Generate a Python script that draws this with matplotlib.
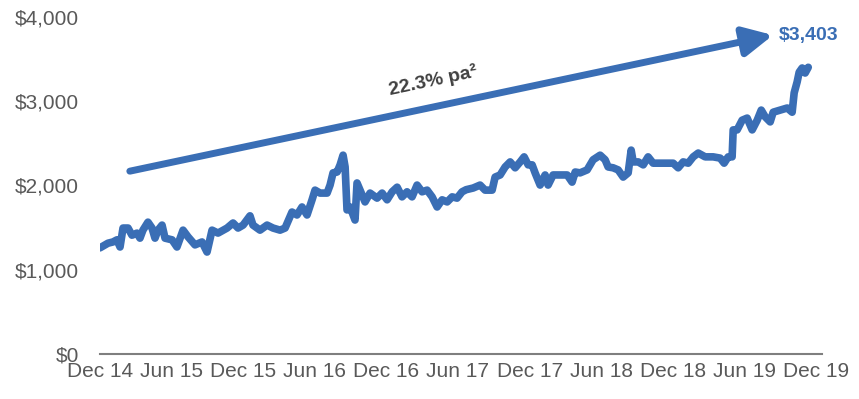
import matplotlib
matplotlib.use("Agg")
import matplotlib.pyplot as plt
from matplotlib.ticker import FuncFormatter

# Portfolio value over time; x is months elapsed since December 2014
months = [
    0.00, 0.67, 1.09, 1.42, 1.68, 1.93, 2.35, 2.68, 3.10, 3.35, 3.60, 4.02, 4.36,
    4.61, 4.86, 5.20, 5.45, 6.04, 6.45, 6.96, 7.38, 7.96, 8.55, 8.97, 9.39, 9.89,
    10.65, 11.15, 11.57, 11.99, 12.57, 12.82, 13.41, 14.00, 14.50, 15.09, 15.51,
    16.09, 16.51, 16.93, 17.35, 17.77, 18.02, 18.44, 19.03, 19.28, 19.53, 19.87,
    20.12, 20.37, 20.54, 20.70, 20.96, 21.37, 21.54, 21.79, 22.21, 22.63, 23.22,
    23.64, 24.06, 24.48, 24.90, 25.31, 25.73, 26.15, 26.57, 26.99, 27.41, 27.83,
    28.25, 28.67, 29.09, 29.51, 29.92, 30.34, 30.68, 31.27, 31.85, 32.27, 32.86,
    33.11, 33.53, 33.95, 34.37, 34.79, 35.21, 35.54, 35.88, 36.21, 36.46, 36.88,
    37.30, 37.55, 37.97, 38.56, 39.15, 39.56, 39.82, 40.23, 40.82, 41.32, 41.91,
    42.33, 42.58, 43.00, 43.42, 43.84, 44.26, 44.51, 44.68, 45.10, 45.52, 45.93,
    46.35, 46.94, 47.53, 48.03, 48.45, 48.87, 49.29, 49.71, 50.13, 50.71, 51.38,
    51.97, 52.30, 52.64, 52.97, 53.06, 53.39, 53.81, 54.23, 54.65, 55.07, 55.41,
    55.74, 56.16, 56.41, 57.00, 57.59, 58.00, 58.17, 58.42, 58.59, 58.84, 59.09,
    59.35,
]
values = [
    1260, 1315, 1330, 1355, 1270, 1495, 1495, 1410, 1435, 1375, 1470, 1565, 1495,
    1375, 1470, 1530, 1375, 1355, 1270, 1470, 1390, 1295, 1330, 1210, 1470, 1435,
    1495, 1555, 1495, 1530, 1640, 1530, 1470, 1530, 1495, 1470, 1495,
    1685, 1650, 1745, 1650, 1830, 1945, 1910, 1910, 2005, 2150, 2160,
    2245, 2360, 2220, 1710, 1745, 1590, 2030, 1945, 1805, 1910, 1850,
    1910, 1830, 1925, 1980, 1865, 1925, 1865, 2005, 1925, 1945, 1865,
    1745, 1830, 1805, 1865, 1850, 1925, 1950, 1970, 2005, 1945, 1945,
    2100, 2125, 2220, 2280, 2210, 2280, 2340, 2245, 2245, 2150, 2005,
    2125, 2005, 2125, 2125, 2125, 2040, 2160, 2150, 2185, 2305, 2360,
    2305, 2220, 2210, 2185, 2100, 2150, 2420, 2280, 2280, 2245, 2340,
    2265, 2265, 2265, 2265, 2210, 2280, 2265, 2340, 2385, 2340, 2340,
    2325, 2265, 2340, 2340, 2660, 2660, 2775, 2800, 2660, 2775, 2895,
    2815, 2755, 2870, 2895, 2920, 2870, 3100, 3230, 3345, 3395, 3335,
    3403,
]

tick_months = [0, 6, 12, 18, 24, 30, 36, 42, 48, 54, 60]
tick_labels = ["Dec 14", "Jun 15", "Dec 15", "Jun 16", "Dec 16", "Jun 17",
               "Dec 17", "Jun 18", "Dec 18", "Jun 19", "Dec 19"]

growth_label = "22.3% pa\u00b2"
trend_start = (2.5, 2170)
trend_end = (56.4, 3785)

BLUE = "#3a6eb5"
GREY = "#595959"

plt.rcParams["font.family"] = ["Liberation Sans", "DejaVu Sans"]

fig = plt.figure(figsize=(8.59, 3.99), dpi=100)
ax = fig.add_axes([0.1164, 0.1128, 0.8405, 0.8446])

ax.plot(months, values, color=BLUE, lw=5.5, solid_joinstyle="round",
        solid_capstyle="round", zorder=3)

# Trend arrow with the annualised growth rate
ax.annotate("", xy=trend_end, xytext=trend_start,
            arrowprops=dict(arrowstyle="-|>,head_length=1.1,head_width=0.55",
                            lw=5, color=BLUE, shrinkA=0, shrinkB=0,
                            mutation_scale=16),
            annotation_clip=False)
ax.text(27.9, 3240, growth_label, rotation=12, rotation_mode="anchor",
        ha="center", va="center", fontsize=14, fontweight="bold",
        color="#404040")

# Final value label
ax.annotate(f"${values[-1]:,.0f}", xy=(months[-1], values[-1]),
            xytext=(0, 23), textcoords="offset points", ha="center",
            va="center", fontsize=14, fontweight="bold", color=BLUE,
            annotation_clip=False)

ax.set_xlim(0, 60.5)
ax.set_ylim(0, 4000)
ax.set_yticks([0, 1000, 2000, 3000, 4000])
ax.yaxis.set_major_formatter(FuncFormatter(lambda v, _: f"${v:,.0f}"))
ax.set_xticks(tick_months)
ax.set_xticklabels(tick_labels)

for side in ("top", "right", "left"):
    ax.spines[side].set_visible(False)
ax.spines["bottom"].set_color("#7f7f7f")
ax.spines["bottom"].set_linewidth(1.5)

ax.tick_params(axis="both", length=0, labelsize=15, labelcolor=GREY)
ax.tick_params(axis="y", pad=15)
ax.tick_params(axis="x", pad=6)

fig.savefig("out.png", dpi=100)
